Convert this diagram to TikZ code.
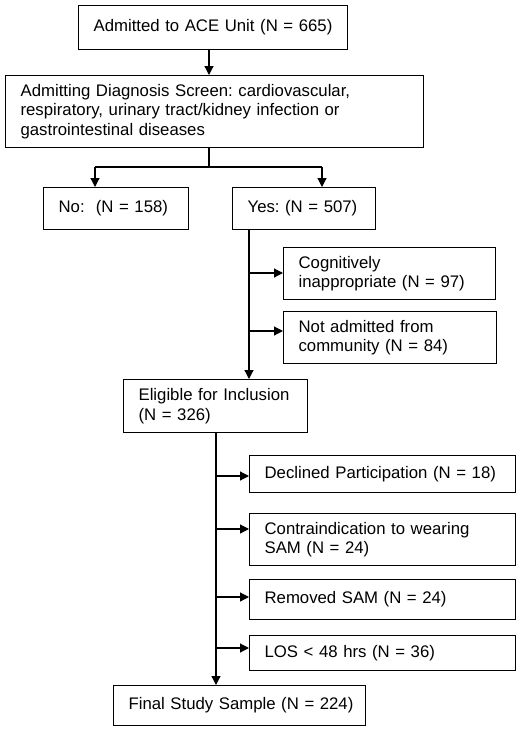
\documentclass[tikz,border=0pt]{standalone}
\usepackage{fontspec}
\setmainfont{Liberation Sans}
\usetikzlibrary{arrows.meta,calc}
\tikzset{
  box/.style={draw, line width=1.2pt, anchor=north west, align=left,
    inner xsep=15pt, inner ysep=0pt, text width=#1},
  arr/.style={-{Triangle[length=9pt,width=9pt]}, line width=1.2pt},
  ln/.style={line width=1.2pt}
}
\hbadness=10000 \hfuzz=100pt
\frenchspacing
\begin{document}
\begin{tikzpicture}[x=1pt,y=-1pt,font=\fontsize{16.75}{19.2}\selectfont]
\useasboundingbox (0,0) rectangle (522,731);
% boxes
\node[box=239pt, minimum height=44pt] (b1) at (78,5) {\mbox{Admitted to ACE Unit (N = 665)}};
\node[box=388pt, minimum height=72pt] (b2) at (5,75) {\mbox{Admitting Diagnosis Screen: cardiovascular,}\\\mbox{respiratory, urinary tract/kidney infection or}\\\mbox{gastrointestinal diseases}};
\node[box=115pt, minimum height=42pt] (no) at (43,187) {\mbox{No:\ \ (N = 158)}};
\node[box=113pt, minimum height=42pt] (yes) at (232,187) {\mbox{Yes: (N = 507)}};
\node[box=182pt, minimum height=52pt] (cog) at (283,247) {\mbox{Cognitively}\\\mbox{inappropriate (N = 97)}};
\node[box=183pt, minimum height=52pt] (nadm) at (283,311) {\mbox{Not admitted from}\\\mbox{community (N = 84)}};
\node[box=154pt, minimum height=53pt] (elig) at (123,379) {\mbox{Eligible for Inclusion}\\\mbox{(N = 326)}};
\node[box=236pt, minimum height=37pt] (dec) at (249,455) {\mbox{Declined Participation (N = 18)}};
\node[box=236pt, minimum height=52pt] (con) at (249,513) {\mbox{Contraindication to wearing}\\\mbox{SAM (N = 24)}};
\node[box=236pt, minimum height=40pt] (rem) at (249,579) {\mbox{Removed SAM (N = 24)}};
\node[box=236pt, minimum height=35pt] (los) at (249,635) {\mbox{LOS < 48 hrs (N = 36)}};
\node[box=222pt, minimum height=40pt] (fin) at (113,685) {\mbox{Final Study Sample (N = 224)}};
% helper coordinates
\coordinate (c1) at (209,167);
\coordinate (nL) at (95,167);
\coordinate (nR) at (322,167);
\coordinate (v1) at (249,0);
\coordinate (v2) at (216,0);
\coordinate (s1) at (249,273);
\coordinate (s2) at (249,331);
\coordinate (t1) at (216,476);
\coordinate (t2) at (216,529);
\coordinate (t3) at (216,597);
\coordinate (t4) at (216,648);
% connectors
\draw[arr] (b1.south -| c1) -- (b2.north -| c1);
\draw[ln] (b2.south -| c1) -- (c1);
\draw[ln] (nL) -- (nR);
\draw[arr] (nL) -- (no.north -| nL);
\draw[arr] (nR) -- (yes.north -| nR);
\draw[arr] (yes.south -| v1) -- (elig.north -| v1);
\draw[arr] (s1) -- (s1 -| cog.west);
\draw[arr] (s2) -- (s2 -| nadm.west);
\draw[arr] (elig.south -| v2) -- (fin.north -| v2);
\draw[arr] (t1) -- (t1 -| dec.west);
\draw[arr] (t2) -- (t2 -| con.west);
\draw[arr] (t3) -- (t3 -| rem.west);
\draw[arr] (t4) -- (t4 -| los.west);
\end{tikzpicture}
\end{document}
